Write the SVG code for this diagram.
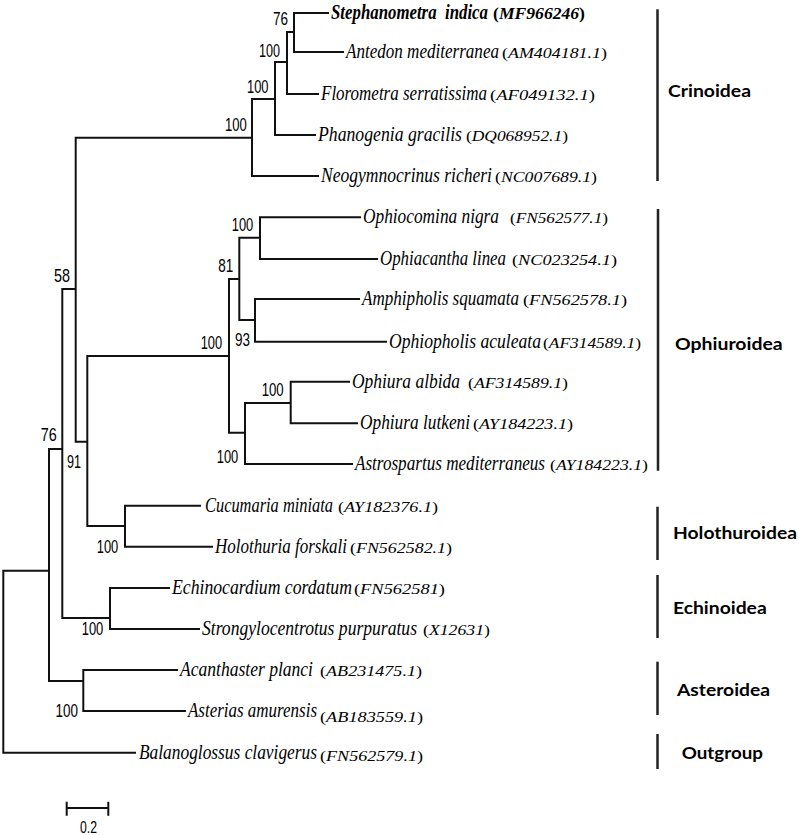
<svg xmlns="http://www.w3.org/2000/svg" width="800" height="835" viewBox="0 0 800 835">
<style>
.br{fill:none;stroke:#111;stroke-width:2;stroke-linecap:square;stroke-linejoin:miter}
.bar{fill:none;stroke:#222;stroke-width:2.5}
.sp{font-family:"Liberation Serif","Times New Roman",serif;font-style:italic;font-size:22px;fill:#000}
.acc{font-family:"Liberation Serif","Times New Roman",serif;font-style:italic;font-size:14px;fill:#000}
.up{font-style:normal}
.bold{font-weight:bold}
.bs{font-family:"Liberation Sans",Arial,sans-serif;font-size:18.5px;fill:#000}
.grp{font-family:Lato,"Open Sans",sans-serif;font-weight:bold;font-size:17.5px;fill:#000}
</style>
<rect width="800" height="835" fill="#fff"/>
<g id="connectors">
<path class="br" d="M294 13 V52 M294 13 H328 M294 52 H343 M287 32 H294 M287 32 V94 M287 94 H318 M275 62 H287 M275 62 V135 M275 135 H315 M252 99 H275 M252 99 V176 M252 176 H318 M75.7 137.7 H252 M75.7 137.7 V441.7 M62.3 289 H75.7 M75.7 441.7 H87.3 M87.3 356 V526 M87.3 356 H229 M229 279 V432.7 M229 279 H239.3 M239.3 237.7 V320 M239.3 237.7 H260 M260 217.3 V259 M260 217.3 H360 M260 259 H377 M239.3 320 H255 M255 299 V341.7 M255 299 H359 M255 341.7 H386 M229 432.7 H245 M245 403 V464 M245 403 H290.7 M290.7 381.7 V423.3 M290.7 381.7 H349 M290.7 423.3 H357 M245 464 H352 M87.3 526 H125 M125 505.7 V546.7 M125 505.7 H200 M125 546.7 H212 M62.3 289 V618 M49 449 H62.3 M62.3 618 H110 M110 588 V629 M110 588 H169 M110 629 H199 M49 449 V681 M49 681 H83.3 M83.3 670 V711 M83.3 670 H177 M83.3 711 H185 M3.3 570.7 H49 M3.3 570.7 V752.7 M3.3 752.7 H135"/>
</g>
<g id="scale">
<path class="br" d="M66.7 808 H108.3 M66.7 801.7 V815.7 M108.3 801.7 V815.7" style="stroke-linecap:butt"/>
<text class="bs" x="80" y="833" textLength="17" lengthAdjust="spacingAndGlyphs" style="font-size:16px">0.2</text>
</g>
<g id="bootstrap">
<text class="bs" x="273" y="25" textLength="15" lengthAdjust="spacingAndGlyphs">76</text>
<text class="bs" x="259" y="56.7" textLength="21" lengthAdjust="spacingAndGlyphs">100</text>
<text class="bs" x="247" y="92.7" textLength="21.5" lengthAdjust="spacingAndGlyphs">100</text>
<text class="bs" x="225" y="131" textLength="21.7" lengthAdjust="spacingAndGlyphs">100</text>
<text class="bs" x="231.7" y="230.5" textLength="21.6" lengthAdjust="spacingAndGlyphs">100</text>
<text class="bs" x="218.3" y="271.5" textLength="15" lengthAdjust="spacingAndGlyphs">81</text>
<text class="bs" x="54" y="281.5" textLength="16" lengthAdjust="spacingAndGlyphs">58</text>
<text class="bs" x="200.7" y="348.5" textLength="21.5" lengthAdjust="spacingAndGlyphs">100</text>
<text class="bs" x="235" y="346" textLength="15" lengthAdjust="spacingAndGlyphs">93</text>
<text class="bs" x="261.7" y="395.5" textLength="22" lengthAdjust="spacingAndGlyphs">100</text>
<text class="bs" x="40.7" y="440.5" textLength="16" lengthAdjust="spacingAndGlyphs">76</text>
<text class="bs" x="216.7" y="463" textLength="21.6" lengthAdjust="spacingAndGlyphs">100</text>
<text class="bs" x="67" y="468" textLength="14" lengthAdjust="spacingAndGlyphs">91</text>
<text class="bs" x="96.7" y="553" textLength="21.6" lengthAdjust="spacingAndGlyphs">100</text>
<text class="bs" x="81.7" y="635" textLength="21.6" lengthAdjust="spacingAndGlyphs">100</text>
<text class="bs" x="55.5" y="716.5" textLength="22.5" lengthAdjust="spacingAndGlyphs">100</text>
</g>
<g id="leaf-stephanometra">
<text class="sp bold" transform="translate(331 18.5) scale(0.72 1)" textLength="218" lengthAdjust="spacingAndGlyphs" xml:space="preserve">Stephanometra  indica</text>
<text class="acc bold" x="493" y="18.5" textLength="92" lengthAdjust="spacingAndGlyphs" style="font-size:17px"><tspan class="up">(</tspan>MF966246<tspan class="up">)</tspan></text>
</g>
<g id="leaf-antedon">
<text class="sp" transform="translate(346 58) scale(0.72 1)" textLength="212.5" lengthAdjust="spacingAndGlyphs">Antedon mediterranea</text>
<text class="acc" x="502" y="58" textLength="105" lengthAdjust="spacingAndGlyphs"><tspan class="up">(</tspan>AM404181.1<tspan class="up">)</tspan></text>
</g>
<g id="leaf-florometra">
<text class="sp" transform="translate(321 100) scale(0.72 1)" textLength="230.6" lengthAdjust="spacingAndGlyphs">Florometra serratissima</text>
<text class="acc" x="490" y="100" textLength="105" lengthAdjust="spacingAndGlyphs"><tspan class="up">(</tspan>AF049132.1<tspan class="up">)</tspan></text>
</g>
<g id="leaf-phanogenia">
<text class="sp" transform="translate(318 141) scale(0.72 1)" textLength="200" lengthAdjust="spacingAndGlyphs">Phanogenia gracilis</text>
<text class="acc" x="466" y="141" textLength="102" lengthAdjust="spacingAndGlyphs"><tspan class="up">(</tspan>DQ068952.1<tspan class="up">)</tspan></text>
</g>
<g id="leaf-neogymnocrinus">
<text class="sp" transform="translate(321 182) scale(0.72 1)" textLength="237.5" lengthAdjust="spacingAndGlyphs">Neogymnocrinus richeri</text>
<text class="acc" x="495" y="182" textLength="102" lengthAdjust="spacingAndGlyphs"><tspan class="up">(</tspan>NC007689.1<tspan class="up">)</tspan></text>
</g>
<g id="leaf-ophiocomina">
<text class="sp" transform="translate(363 223.3) scale(0.72 1)" textLength="188.9" lengthAdjust="spacingAndGlyphs">Ophiocomina nigra</text>
<text class="acc" x="510" y="223.3" textLength="98" lengthAdjust="spacingAndGlyphs"><tspan class="up">(</tspan>FN562577.1<tspan class="up">)</tspan></text>
</g>
<g id="leaf-ophiacantha">
<text class="sp" transform="translate(380 265) scale(0.72 1)" textLength="175" lengthAdjust="spacingAndGlyphs">Ophiacantha linea</text>
<text class="acc" x="512" y="265" textLength="105" lengthAdjust="spacingAndGlyphs"><tspan class="up">(</tspan>NC023254.1<tspan class="up">)</tspan></text>
</g>
<g id="leaf-amphipholis">
<text class="sp" transform="translate(362 305) scale(0.72 1)" textLength="218.1" lengthAdjust="spacingAndGlyphs">Amphipholis squamata</text>
<text class="acc" x="523" y="305" textLength="104" lengthAdjust="spacingAndGlyphs"><tspan class="up">(</tspan>FN562578.1<tspan class="up">)</tspan></text>
</g>
<g id="leaf-ophiopholis">
<text class="sp" transform="translate(389 347.7) scale(0.72 1)" textLength="211.1" lengthAdjust="spacingAndGlyphs">Ophiopholis aculeata</text>
<text class="acc" x="543" y="347.7" textLength="98" lengthAdjust="spacingAndGlyphs"><tspan class="up">(</tspan>AF314589.1<tspan class="up">)</tspan></text>
</g>
<g id="leaf-ophiura-albida">
<text class="sp" transform="translate(352 387.7) scale(0.72 1)" textLength="150" lengthAdjust="spacingAndGlyphs">Ophiura albida</text>
<text class="acc" x="468" y="387.7" textLength="100" lengthAdjust="spacingAndGlyphs"><tspan class="up">(</tspan>AF314589.1<tspan class="up">)</tspan></text>
</g>
<g id="leaf-ophiura-lutkeni">
<text class="sp" transform="translate(360 429.3) scale(0.72 1)" textLength="152.8" lengthAdjust="spacingAndGlyphs">Ophiura lutkeni</text>
<text class="acc" x="473" y="429.3" textLength="100" lengthAdjust="spacingAndGlyphs"><tspan class="up">(</tspan>AY184223.1<tspan class="up">)</tspan></text>
</g>
<g id="leaf-astrospartus">
<text class="sp" transform="translate(355 470) scale(0.72 1)" textLength="263.9" lengthAdjust="spacingAndGlyphs">Astrospartus mediterraneus</text>
<text class="acc" x="550" y="470" textLength="98" lengthAdjust="spacingAndGlyphs"><tspan class="up">(</tspan>AY184223.1<tspan class="up">)</tspan></text>
</g>
<g id="leaf-cucumaria">
<text class="sp" transform="translate(205 511.7) scale(0.72 1)" textLength="177.8" lengthAdjust="spacingAndGlyphs">Cucumaria miniata</text>
<text class="acc" x="338" y="511.7" textLength="100" lengthAdjust="spacingAndGlyphs"><tspan class="up">(</tspan>AY182376.1<tspan class="up">)</tspan></text>
</g>
<g id="leaf-holothuria">
<text class="sp" transform="translate(215 552.7) scale(0.72 1)" textLength="183.3" lengthAdjust="spacingAndGlyphs">Holothuria forskali</text>
<text class="acc" x="350" y="552.7" textLength="102" lengthAdjust="spacingAndGlyphs"><tspan class="up">(</tspan>FN562582.1<tspan class="up">)</tspan></text>
</g>
<g id="leaf-echinocardium">
<text class="sp" transform="translate(172 594) scale(0.72 1)" textLength="250" lengthAdjust="spacingAndGlyphs">Echinocardium cordatum</text>
<text class="acc" x="354" y="594" textLength="91" lengthAdjust="spacingAndGlyphs"><tspan class="up">(</tspan>FN562581<tspan class="up">)</tspan></text>
</g>
<g id="leaf-strongylocentrotus">
<text class="sp" transform="translate(202 635) scale(0.72 1)" textLength="298.6" lengthAdjust="spacingAndGlyphs">Strongylocentrotus purpuratus</text>
<text class="acc" x="423" y="635" textLength="67" lengthAdjust="spacingAndGlyphs"><tspan class="up">(</tspan>X12631<tspan class="up">)</tspan></text>
</g>
<g id="leaf-acanthaster">
<text class="sp" transform="translate(180 676) scale(0.72 1)" textLength="184.7" lengthAdjust="spacingAndGlyphs">Acanthaster planci</text>
<text class="acc" x="320" y="676" textLength="102" lengthAdjust="spacingAndGlyphs"><tspan class="up">(</tspan>AB231475.1<tspan class="up">)</tspan></text>
</g>
<g id="leaf-asterias">
<text class="sp" transform="translate(188 717) scale(0.72 1)" textLength="179.2" lengthAdjust="spacingAndGlyphs">Asterias amurensis</text>
<text class="acc" x="320" y="722" textLength="103" lengthAdjust="spacingAndGlyphs"><tspan class="up">(</tspan>AB183559.1<tspan class="up">)</tspan></text>
</g>
<g id="leaf-balanoglossus">
<text class="sp" transform="translate(139 758.7) scale(0.72 1)" textLength="247.2" lengthAdjust="spacingAndGlyphs">Balanoglossus clavigerus</text>
<text class="acc" x="320" y="760.5" textLength="103" lengthAdjust="spacingAndGlyphs"><tspan class="up">(</tspan>FN562579.1<tspan class="up">)</tspan></text>
</g>
<g id="group-crinoidea">
<line class="bar" x1="657.5" y1="9.3" x2="657.5" y2="181"/>
<text class="grp" x="668" y="97.3" textLength="83" lengthAdjust="spacingAndGlyphs">Crinoidea</text>
</g>
<g id="group-ophiuroidea">
<line class="bar" x1="658" y1="209" x2="658" y2="470.7"/>
<text class="grp" x="675" y="350" textLength="107.7" lengthAdjust="spacingAndGlyphs">Ophiuroidea</text>
</g>
<g id="group-holothuroidea">
<line class="bar" x1="657.5" y1="506.7" x2="657.5" y2="560"/>
<text class="grp" x="673" y="539.3" textLength="124" lengthAdjust="spacingAndGlyphs">Holothuroidea</text>
</g>
<g id="group-echinoidea">
<line class="bar" x1="657.5" y1="575" x2="657.5" y2="638"/>
<text class="grp" x="673" y="614.3" textLength="93.7" lengthAdjust="spacingAndGlyphs">Echinoidea</text>
</g>
<g id="group-asteroidea">
<line class="bar" x1="657.5" y1="661.7" x2="657.5" y2="715"/>
<text class="grp" x="677" y="696" textLength="93" lengthAdjust="spacingAndGlyphs">Asteroidea</text>
</g>
<g id="group-outgroup">
<line class="bar" x1="657.5" y1="734" x2="657.5" y2="769"/>
<text class="grp" x="681.7" y="758.7" textLength="81.3" lengthAdjust="spacingAndGlyphs">Outgroup</text>
</g>
</svg>
